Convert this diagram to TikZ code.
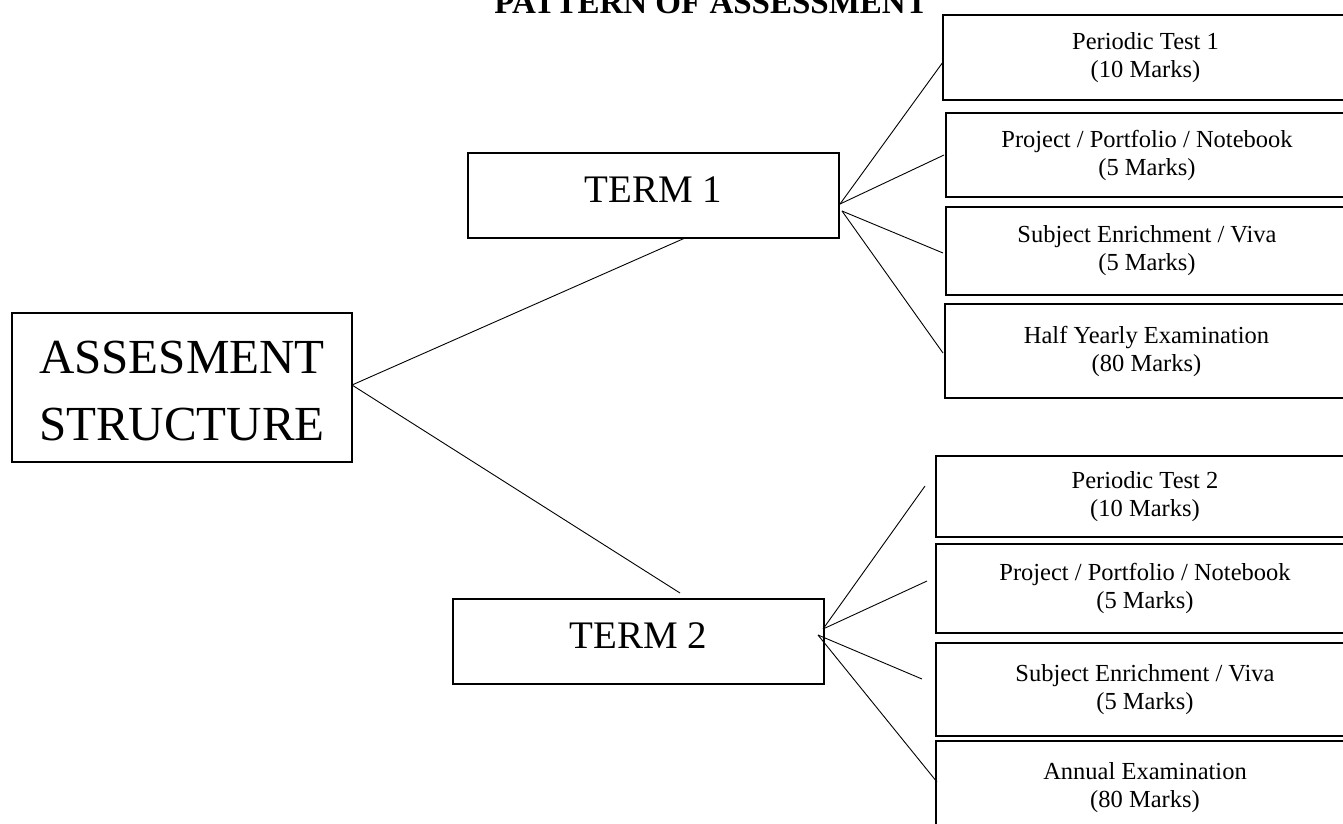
\documentclass[tikz,border=0pt]{standalone}
\usepackage{fontspec}
\setmainfont{Liberation Serif}
\begin{document}
\begin{tikzpicture}[x=1pt,y=-1pt,
  boxst/.style={draw, line width=2.2pt, inner sep=0pt, outer sep=0pt, align=center,
    font=\fontsize{24.5}{28}\selectfont},
  frame/.style={draw, line width=2.2pt, inner sep=0pt, outer sep=0pt},
  conn/.style={line width=0.9pt},
  termtext/.style={anchor=base, inner sep=0pt, font=\fontsize{39}{39}\selectfont},
  bigtext/.style={anchor=base, inner sep=0pt, font=\fontsize{49}{49}\selectfont}]
\useasboundingbox (0,0) rectangle (1343,823);
\clip (0,0) rectangle (1343,823);

% title
\node[anchor=base east, inner sep=0pt, font=\fontsize{33}{33}\selectfont\bfseries] (title) at (928,13) {PATTERN OF ASSESSMENT};

% main boxes
\node[frame, minimum width=340pt, minimum height=149pt] (as) at (182,387.5) {};
\node[bigtext] (asA) at (182,373) {ASSESMENT};
\node[bigtext] (asB) at (182,440) {STRUCTURE};

\node[frame, minimum width=371pt, minimum height=85pt] (t1) at (653.5,195.5) {};
\node[termtext] (t1l) at (653.5,202) {TERM 1};

\node[frame, minimum width=371pt, minimum height=85pt] (t2) at (638.5,641.5) {};
\node[termtext] (t2l) at (638.5,648) {TERM 2};

% term 1 items
\node[boxst, minimum width=405pt, minimum height=85pt] (p1) at (1145.5,57.5) {Periodic Test 1\\(10 Marks)};
\node[boxst, minimum width=402pt, minimum height=84pt] (j1) at (1147,155) {Project / Portfolio / Notebook\\(5 Marks)};
\node[boxst, minimum width=402pt, minimum height=88pt] (s1) at (1147,251) {Subject Enrichment / Viva\\(5 Marks)};
\node[boxst, minimum width=403pt, minimum height=94pt] (h1) at (1146.5,351) {Half Yearly Examination\\(80 Marks)};

% term 2 items
\node[boxst, minimum width=418pt, minimum height=81pt] (p2) at (1145,496.5) {Periodic Test 2\\(10 Marks)};
\node[boxst, minimum width=418pt, minimum height=89pt] (j2) at (1145,588.5) {Project / Portfolio / Notebook\\(5 Marks)};
\node[boxst, minimum width=418pt, minimum height=93pt] (s2) at (1145,689.5) {Subject Enrichment / Viva\\(5 Marks)};
\node[boxst, minimum width=418pt, minimum height=94pt] (a2) at (1145,788) {Annual Examination\\(80 Marks)};

% connector end points
\coordinate (ao) at (352,385);
\coordinate (t1in) at (685,238);
\coordinate (t2in) at (680,593);
\coordinate (t1oa) at (840,204);
\coordinate (t1ob) at (842,211);
\coordinate (p1in) at (943,62);
\coordinate (j1in) at (944,155);
\coordinate (s1in) at (943,253);
\coordinate (h1in) at (943,353);
\coordinate (t2oa) at (823,629);
\coordinate (t2ob) at (818,635);
\coordinate (p2in) at (925,486);
\coordinate (j2in) at (927,581);
\coordinate (s2in) at (922,679);
\coordinate (a2in) at (937,782);

\draw[conn] (ao) -- (t1in);
\draw[conn] (ao) -- (t2in);
\draw[conn] (t1oa) -- (p1in);
\draw[conn] (t1oa) -- (j1in);
\draw[conn] (t1ob) -- (s1in);
\draw[conn] (t1ob) -- (h1in);
\draw[conn] (t2oa) -- (p2in);
\draw[conn] (t2oa) -- (j2in);
\draw[conn] (t2ob) -- (s2in);
\draw[conn] (t2ob) -- (a2in);
\end{tikzpicture}
\end{document}
